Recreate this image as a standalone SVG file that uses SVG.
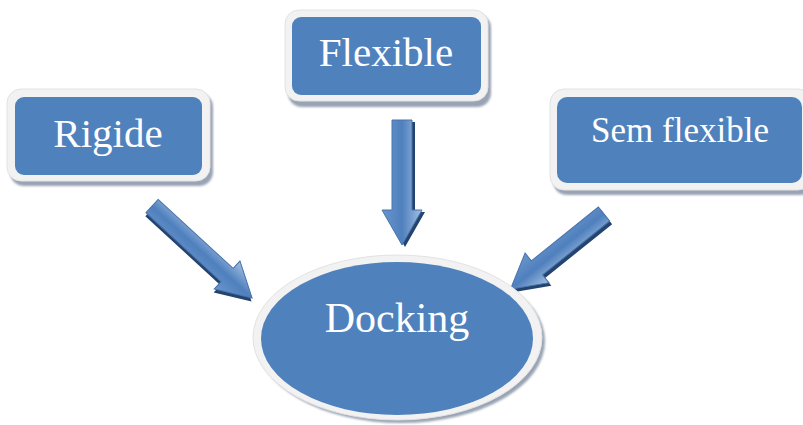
<svg xmlns="http://www.w3.org/2000/svg" width="803" height="425" viewBox="0 0 803 425">
  <defs>
    <style>
      .frame { fill: #f2f2f2; stroke: #e2e2e2; stroke-width: 1; }
      .face { fill: #4f81bd; }
      .shadow { fill: #98a3b4; filter: url(#soft); }
      .label { fill: #ffffff; font-family: "Liberation Serif", "Times New Roman", serif; text-anchor: middle; }
      .arrow { fill: url(#arrowFill); stroke: #4874ab; stroke-width: 1; }
      .arrowShadow { fill: #24446f; }
    </style>
    <filter id="soft" x="-10%" y="-10%" width="120%" height="120%">
      <feGaussianBlur stdDeviation="1"/>
    </filter>
    <linearGradient id="arrowFill" x1="0" y1="0" x2="0" y2="1">
      <stop offset="0" stop-color="#a4bfe2"/>
      <stop offset="0.5" stop-color="#4f80bd"/>
      <stop offset="1" stop-color="#6a95cc"/>
    </linearGradient>
    <!-- block arrow pointing along +x, tail centre at origin -->
    <path id="arrowHead" d="M0,-9 L-34,-9 L-34,-19 L0,0 L-34,19 L-34,9 L0,9 Z"/>
  </defs>

  <g id="connectors">
    <!-- Rigide -> Docking -->
    <g transform="translate(152,206) rotate(42.6)">
      <path class="arrowShadow" transform="translate(2,3)" d="M0,-9 L102,-9 L102,-19 L136,0 L102,19 L102,9 L0,9 Z"/>
      <path class="arrow" d="M0,-9 L102,-9 L102,-19 L136,0 L102,19 L102,9 L0,9 Z"/>
    </g>
    <!-- Flexible -> Docking -->
    <g transform="translate(402,120) rotate(90)">
      <path class="arrowShadow" transform="translate(2,-3)" d="M0,-10 L90,-10 L90,-20 L125,0 L90,20 L90,10 L0,10 Z"/>
      <path class="arrow" d="M0,-10 L90,-10 L90,-20 L125,0 L90,20 L90,10 L0,10 Z"/>
    </g>
    <!-- Sem flexible -> Docking -->
    <g transform="translate(604,214) rotate(141.2)">
      <path class="arrowShadow" transform="translate(0,-4)" d="M0,-9 L86,-9 L86,-19 L120,0 L86,19 L86,9 L0,9 Z"/>
      <path class="arrow" d="M0,-9 L86,-9 L86,-19 L120,0 L86,19 L86,9 L0,9 Z"/>
    </g>
  </g>

  <g id="rigide">
    <rect class="shadow" x="10" y="93" width="203" height="93" rx="14"/>
    <rect class="frame" x="7" y="89" width="203" height="92" rx="14"/>
    <rect class="face" x="15" y="97" width="187" height="78" rx="9"/>
    <text class="label" x="108" y="147" font-size="41">Rigide</text>
  </g>

  <g id="flexible">
    <rect class="shadow" x="288" y="14" width="203" height="93" rx="14"/>
    <rect class="frame" x="285" y="10" width="203" height="91" rx="14"/>
    <rect class="face" x="292" y="17" width="189" height="78" rx="9"/>
    <text class="label" x="386" y="66" font-size="41">Flexible</text>
  </g>

  <g id="sem-flexible">
    <rect class="shadow" x="553" y="93" width="262" height="102" rx="14"/>
    <rect class="frame" x="550" y="89" width="262" height="101" rx="14"/>
    <rect class="face" x="557" y="97" width="245" height="86" rx="10"/>
    <text class="label" x="680" y="142" font-size="35">Sem flexible</text>
  </g>

  <g id="docking">
    <ellipse class="shadow" cx="401" cy="341" rx="144" ry="82"/>
    <ellipse class="frame" cx="397.5" cy="337.5" rx="144.5" ry="82.5"/>
    <ellipse class="face" cx="397" cy="338.5" rx="136" ry="76.5"/>
    <text class="label" x="397" y="332" font-size="42">Docking</text>
  </g>
</svg>
